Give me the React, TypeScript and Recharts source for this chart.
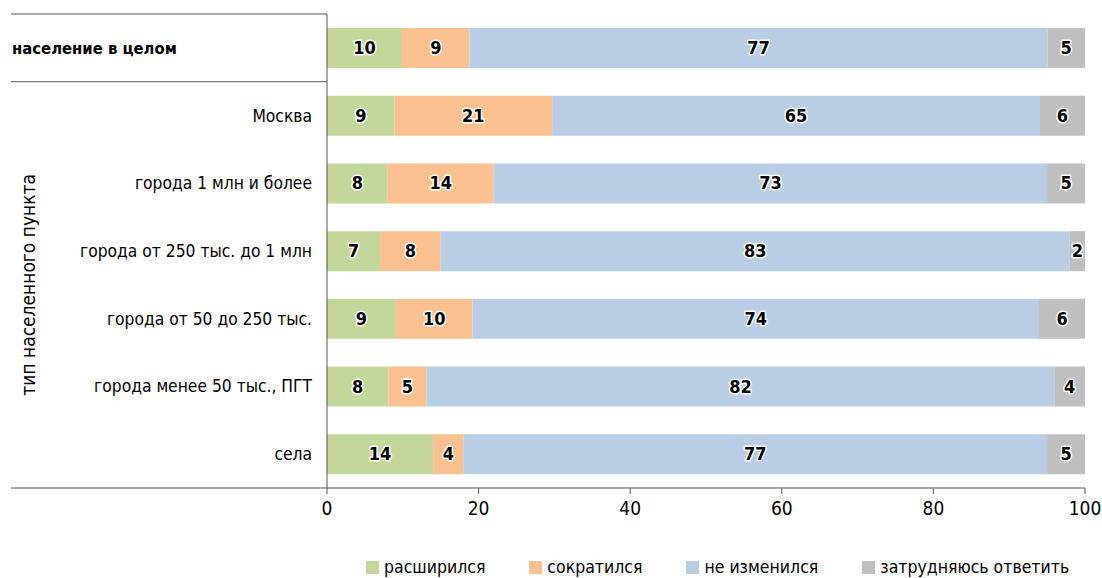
import React from "react";
import {
  BarChart,
  Bar,
  XAxis,
  YAxis,
  Legend,
  LabelList,
} from "recharts";

const categories = [
  "население в целом",
  "Москва",
  "города 1 млн и более",
  "города от 250 тыс. до 1 млн",
  "города от 50 до 250 тыс.",
  "города менее 50 тыс., ПГТ",
  "села",
];
const expanded = [10, 9, 8, 7, 9, 8, 14];
const shrunk = [9, 21, 14, 8, 10, 5, 4];
const unchanged = [77, 65, 73, 83, 74, 82, 77];
const unsure = [5, 6, 5, 2, 6, 4, 5];
const xTicks = [0, 0.2, 0.4, 0.6, 0.8, 1];

const data = categories.map((name, i) => ({
  name,
  expanded: expanded[i],
  shrunk: shrunk[i],
  unchanged: unchanged[i],
  unsure: unsure[i],
}));

const FONT = '"DejaVu Sans Condensed", "DejaVu Sans", sans-serif';
const W = 1102;
const H = 578;
const TOP = 14;
const PLOT_BOTTOM = 488;
const BAND = (PLOT_BOTTOM - TOP) / categories.length;
const LINE = "#555";

const CategoryTick = (props: any) => {
  const { x, y, payload, index } = props;
  const first = index === 0;
  const last = index === categories.length - 1;
  return (
    <g>
      {first && (
        <>
          <line x1={11} x2={x + 8} y1={y - BAND / 2} y2={y - BAND / 2} stroke={LINE} />
          <line x1={11} x2={x + 8} y1={y + BAND / 2} y2={y + BAND / 2} stroke={LINE} />
        </>
      )}
      {last && (
        <line x1={11} x2={x + 8} y1={y + BAND / 2} y2={y + BAND / 2} stroke={LINE} />
      )}
      <text
        x={first ? 12 : x - 7}
        y={y}
        dy={6}
        textAnchor={first ? "start" : "end"}
        fontFamily={FONT}
        fontSize={first ? 16.5 : 17.3}
        fontWeight={first ? 700 : 400}
        fill="#000"
      >
        {payload.value}
      </text>
    </g>
  );
};

const AxisTitle = (props: any) => {
  const { viewBox } = props;
  const cx = 28;
  const cy = viewBox.y + BAND + (viewBox.height - BAND) / 2;
  return (
    <text
      x={cx}
      y={cy}
      transform={`rotate(-90 ${cx} ${cy})`}
      textAnchor="middle"
      dominantBaseline="central"
      fontFamily={FONT}
      fontSize={19}
      fill="#000"
    >
      тип населенного пункта
    </text>
  );
};

const BarValue = (props: any) => {
  const { x, y, width, height, value } = props;
  return (
    <text
      x={x + width / 2}
      y={y + height / 2}
      dy={6}
      textAnchor="middle"
      fontFamily={FONT}
      fontSize={18}
      fontWeight={700}
      fill="#000"
      stroke="#fff"
      strokeWidth={3}
      strokeLinejoin="round"
      paintOrder="stroke"
    >
      {value}
    </text>
  );
};

const series = [
  { key: "expanded", name: "расширился", color: "#C4D79B" },
  { key: "shrunk", name: "сократился", color: "#FAC090" },
  { key: "unchanged", name: "не изменился", color: "#B9CDE5" },
  { key: "unsure", name: "затрудняюсь ответить", color: "#BFBFBF" },
];

const LegendContent = () => (
  <div
    style={{
      display: "flex",
      justifyContent: "flex-start",
      gap: 44,
      fontFamily: FONT,
      fontSize: 17.5,
      paddingLeft: 366,
      paddingTop: 5,
    }}
  >
    {series.map((s) => (
      <div key={s.key} style={{ display: "flex", alignItems: "center" }}>
        <span
          style={{
            width: 13,
            height: 13,
            background: s.color,
            display: "inline-block",
            marginRight: 5,
          }}
        />
        <span>{s.name}</span>
      </div>
    ))}
  </div>
);

export default function App() {
  return (
    <div style={{ position: "absolute", left: 0, top: 0, background: "#fff" }}>
      <BarChart
        width={W}
        height={H}
        data={data}
        layout="vertical"
        stackOffset="expand"
        margin={{ top: TOP, right: 17, left: 0, bottom: 0 }}
      >
        <XAxis
          type="number"
          domain={[0, 1]}
          ticks={xTicks}
          tickFormatter={(v: number) => String(Math.round(v * 100))}
          height={64}
          axisLine={{ stroke: LINE }}
          tickLine={{ stroke: LINE }}
          tickSize={6}
          tick={{ fontFamily: FONT, fontSize: 19, fill: "#000" }}
          tickMargin={8}
          interval={0}
        />
        <YAxis
          type="category"
          dataKey="name"
          width={327}
          axisLine={{ stroke: LINE }}
          tickLine={false}
          tick={<CategoryTick />}
          interval={0}
          label={<AxisTitle />}
        />
        <Legend verticalAlign="bottom" height={26} content={<LegendContent />} />
        {series.map((s) => (
          <Bar
            key={s.key}
            dataKey={s.key}
            name={s.name}
            stackId="a"
            fill={s.color}
            barSize={40}
            isAnimationActive={false}
          >
            <LabelList dataKey={s.key} content={<BarValue />} />
          </Bar>
        ))}
      </BarChart>
    </div>
  );
}
